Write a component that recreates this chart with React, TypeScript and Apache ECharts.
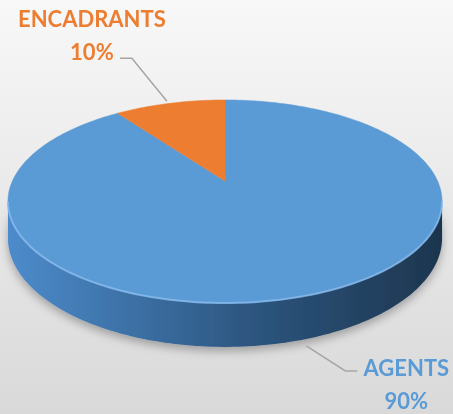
import React, { useEffect, useRef } from "react";
import * as echarts from "echarts";

const CATEGORIES = ["AGENTS", "ENCADRANTS"];
const VALUES = [90, 10];
const COLORS = ["#5B9BD5", "#ED7D31"];

// projection of the tilted disc (perspective)
const CX = 225;
const CY = 181;
const RA = 212.6;
const RB = 97.4;
const K = 0.202;
const DEPTH = 35;
const VIS0 = Math.acos(-K);
const VIS1 = 2 * Math.PI - Math.acos(-K);

// label leader layout, relative to the slice anchor
const LAYOUT = [
  { start: [0, 7], elbow: [39, 32], end: [51, 32], text: [100, 45] },
  { start: [-3, -2], elbow: [-38, -45], end: [-50, -45], text: [-78, -68] },
];

function proj(t: number, z: number): number[] {
  const X = Math.sin(t);
  const Y = Math.cos(t);
  const d = 1 + K * Y;
  return [CX + (RA * X) / d, CY - (RB * Y) / d + (z * DEPTH) / d];
}

function arc(t0: number, t1: number, z: number): number[][] {
  const n = Math.max(2, Math.ceil((t1 - t0) / 0.02));
  const pts: number[][] = [];
  for (let j = 0; j <= n; j++) pts.push(proj(t0 + ((t1 - t0) * j) / n, z));
  return pts;
}

export default function App() {
  const ref = useRef<HTMLDivElement>(null);
  useEffect(() => {
    if (!ref.current) return;
    const chart = echarts.init(ref.current, null, { renderer: "svg" });
    const total = VALUES.reduce((a, b) => a + b, 0);
    const wallGrad = new echarts.graphic.LinearGradient(
      8, 0, 443, 0,
      [
        { offset: 0, color: "#4d8bcb" },
        { offset: 0.3, color: "#3b6fa3" },
        { offset: 0.55, color: "#2d5680" },
        { offset: 1, color: "#1d354e" },
      ],
      true
    );
    const option: any = {
      animation: false,
      graphic: [
        {
          type: "rect",
          z: -100,
          silent: true,
          shape: { x: 0, y: 0, width: 453, height: 414 },
          style: {
            fill: new echarts.graphic.LinearGradient(0, 0, 0, 1, [
              { offset: 0, color: "#f8f8f8" },
              { offset: 1, color: "#d9d9d9" },
            ]),
          },
        },
      ],
      series: [
        {
          type: "custom",
          coordinateSystem: "none",
          data: VALUES.map((v, i) => ({ name: CATEGORIES[i], value: v })),
          renderItem: (params: any, api: any) => {
            const i = params.dataIndex;
            const v = api.value(0);
            const before = VALUES.slice(0, i).reduce((a, b) => a + b, 0);
            const t0 = (before / total) * 2 * Math.PI;
            const t1 = ((before + v) / total) * 2 * Math.PI;
            const color = COLORS[i];
            const children: any[] = [];
            const w0 = Math.max(t0, VIS0);
            const w1 = Math.min(t1, VIS1);
            if (w1 > w0) {
              const pts = arc(w0, w1, 0).concat(arc(w0, w1, 1).reverse());
              children.push({
                type: "polygon",
                shape: { points: pts },
                style: {
                  fill: wallGrad,
                  shadowColor: "rgba(0,0,0,0.3)",
                  shadowBlur: 10,
                  shadowOffsetY: 4,
                },
              });
            }
            children.push({
              type: "polygon",
              shape: { points: [[CX, CY]].concat(arc(t0, t1, 0)) },
              style: { fill: color, stroke: color, lineWidth: 0.5 },
            });
            if (w1 > w0) {
              children.push({
                type: "polyline",
                shape: { points: arc(w0, w1, 0) },
                style: { stroke: "rgba(140,190,240,0.75)", lineWidth: 2, fill: null },
              });
            }
            const mid = (t0 + t1) / 2;
            const anchor = Math.cos(mid) > 0 ? proj(mid, 0) : proj(mid, 1);
            const L = LAYOUT[i];
            const p = (o: number[]) => [anchor[0] + o[0], anchor[1] + o[1]];
            children.push({
              type: "polyline",
              shape: { points: [p(L.start), p(L.elbow), p(L.end)] },
              style: { stroke: "#a6a6a6", lineWidth: 1.5, fill: null },
            });
            const tp = p(L.text);
            children.push({
              type: "text",
              x: tp[0],
              y: tp[1],
              style: {
                text: CATEGORIES[i] + "\n" + Math.round((v / total) * 100) + "%",
                fill: color,
                fontFamily: "Lato",
                fontWeight: "bold",
                fontSize: 22,
                lineHeight: 33,
                align: "center",
                verticalAlign: "middle",
              },
            });
            return { type: "group", children };
          },
        },
      ],
    };
    chart.setOption(option);
    return () => chart.dispose();
  }, []);
  return (
    <div
      ref={ref}
      style={{ position: "fixed", left: 0, top: 0, width: 453, height: 414 }}
    />
  );
}
